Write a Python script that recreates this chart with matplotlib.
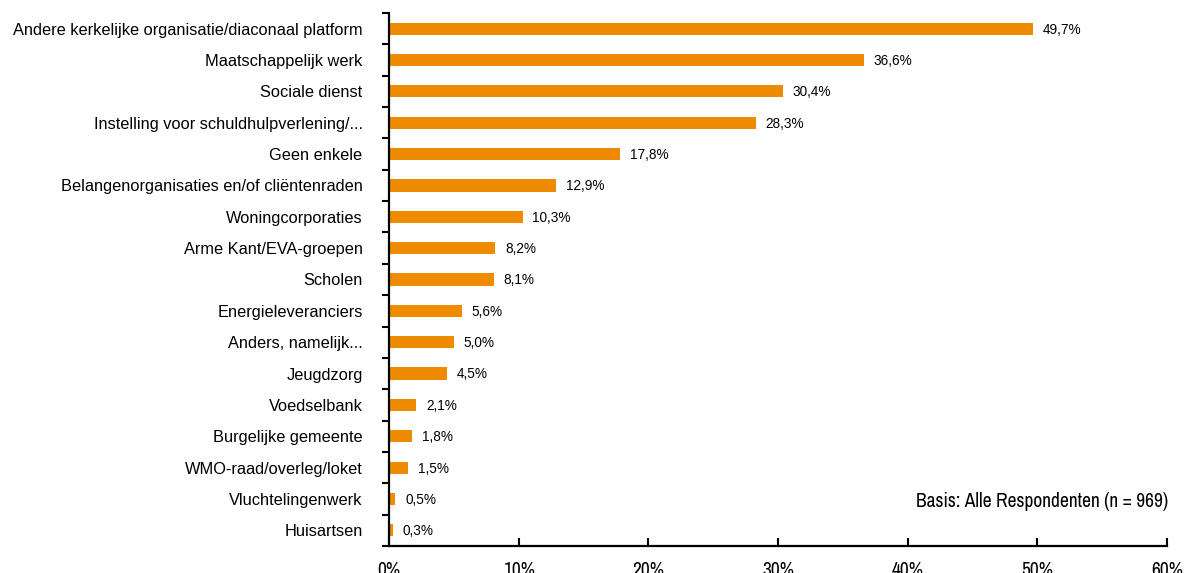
import matplotlib
matplotlib.use("Agg")
import matplotlib.pyplot as plt
from matplotlib import font_manager as fm

categories = [
    "Andere kerkelijke organisatie/diaconaal platform",
    "Maatschappelijk werk",
    "Sociale dienst",
    "Instelling voor schuldhulpverlening/...",
    "Geen enkele",
    "Belangenorganisaties en/of cliëntenraden",
    "Woningcorporaties",
    "Arme Kant/EVA-groepen",
    "Scholen",
    "Energieleveranciers",
    "Anders, namelijk...",
    "Jeugdzorg",
    "Voedselbank",
    "Burgelijke gemeente",
    "WMO-raad/overleg/loket",
    "Vluchtelingenwerk",
    "Huisartsen",
]
values = [49.7, 36.6, 30.4, 28.3, 17.8, 12.9, 10.3, 8.2, 8.1, 5.6, 5.0, 4.5, 2.1, 1.8, 1.5, 0.5, 0.3]
xticks = [0, 10, 20, 30, 40, 50, 60]
xtick_labels = ["0%", "10%", "20%", "30%", "40%", "50%", "60%"]
note = "Basis: Alle Respondenten (n = 969)"

# look for a condensed / narrow face
narrow_name = None
narrow_stretch = 'normal'
for f in fm.fontManager.ttflist:
    if 'Narrow' in f.name or 'Condensed' in f.name:
        narrow_name = f.name
        break
if narrow_name is None:
    for f in fm.fontManager.ttflist:
        if f.name in ('DejaVu Sans', 'Liberation Sans', 'Noto Sans', 'Roboto', 'Open Sans') and str(f.stretch) in ('condensed', 'semi-condensed', '500', '300', '400'):
            if str(f.stretch) != '500' and str(f.stretch) != 'normal':
                narrow_name = f.name
                narrow_stretch = f.stretch
                break
condensed_found = narrow_name is not None
if narrow_name is None:
    narrow_name = 'Liberation Sans'

plt.rcParams['font.family'] = ['Liberation Sans', 'DejaVu Sans']

fig = plt.figure(figsize=(11.84, 5.73), dpi=100)
ax = fig.add_axes([389/1184, 1 - 546/573, (1167-389)/1184, (546-13)/573])

n = len(categories)
ypos = list(range(n))
ax.barh(ypos, values, height=0.39, color="#EE8B00", zorder=2)
for y, v in zip(ypos, values):
    ax.text(v + 0.75, y + 0.03, f"{v:.1f}%".replace(".", ","), va="center", ha="left",
            fontsize=9.8, color="#000000")

ax.set_ylim(n - 0.5, -0.5)
ax.set_xlim(0, 60)
ax.set_yticks(ypos)
ax.set_yticklabels(categories, fontsize=11.8)
ax.tick_params(axis='y', which='major', length=0, pad=19)
ax.set_yticks([i - 0.5 for i in range(n + 1)], minor=True)
ax.tick_params(axis='y', which='minor', length=5, width=1.5, direction='out', color='black')

fs_tick = 14 if condensed_found else 12
fs_note = 14 if condensed_found else 11
ax.set_xticks(xticks)
ax.set_xticklabels(xtick_labels, fontsize=fs_tick, fontfamily=narrow_name, fontstretch=narrow_stretch)
ax.tick_params(axis='x', direction='in', length=6, width=1.5, pad=10.5)

for s in ['top', 'right']:
    ax.spines[s].set_visible(False)
for s in ['left', 'bottom']:
    ax.spines[s].set_linewidth(1.6)

ax.text(1.002, 0.083, note, transform=ax.transAxes, ha='right', va='center',
        fontsize=fs_note, fontfamily=narrow_name, fontstretch=narrow_stretch)

fig.savefig("out.png", dpi=100)
